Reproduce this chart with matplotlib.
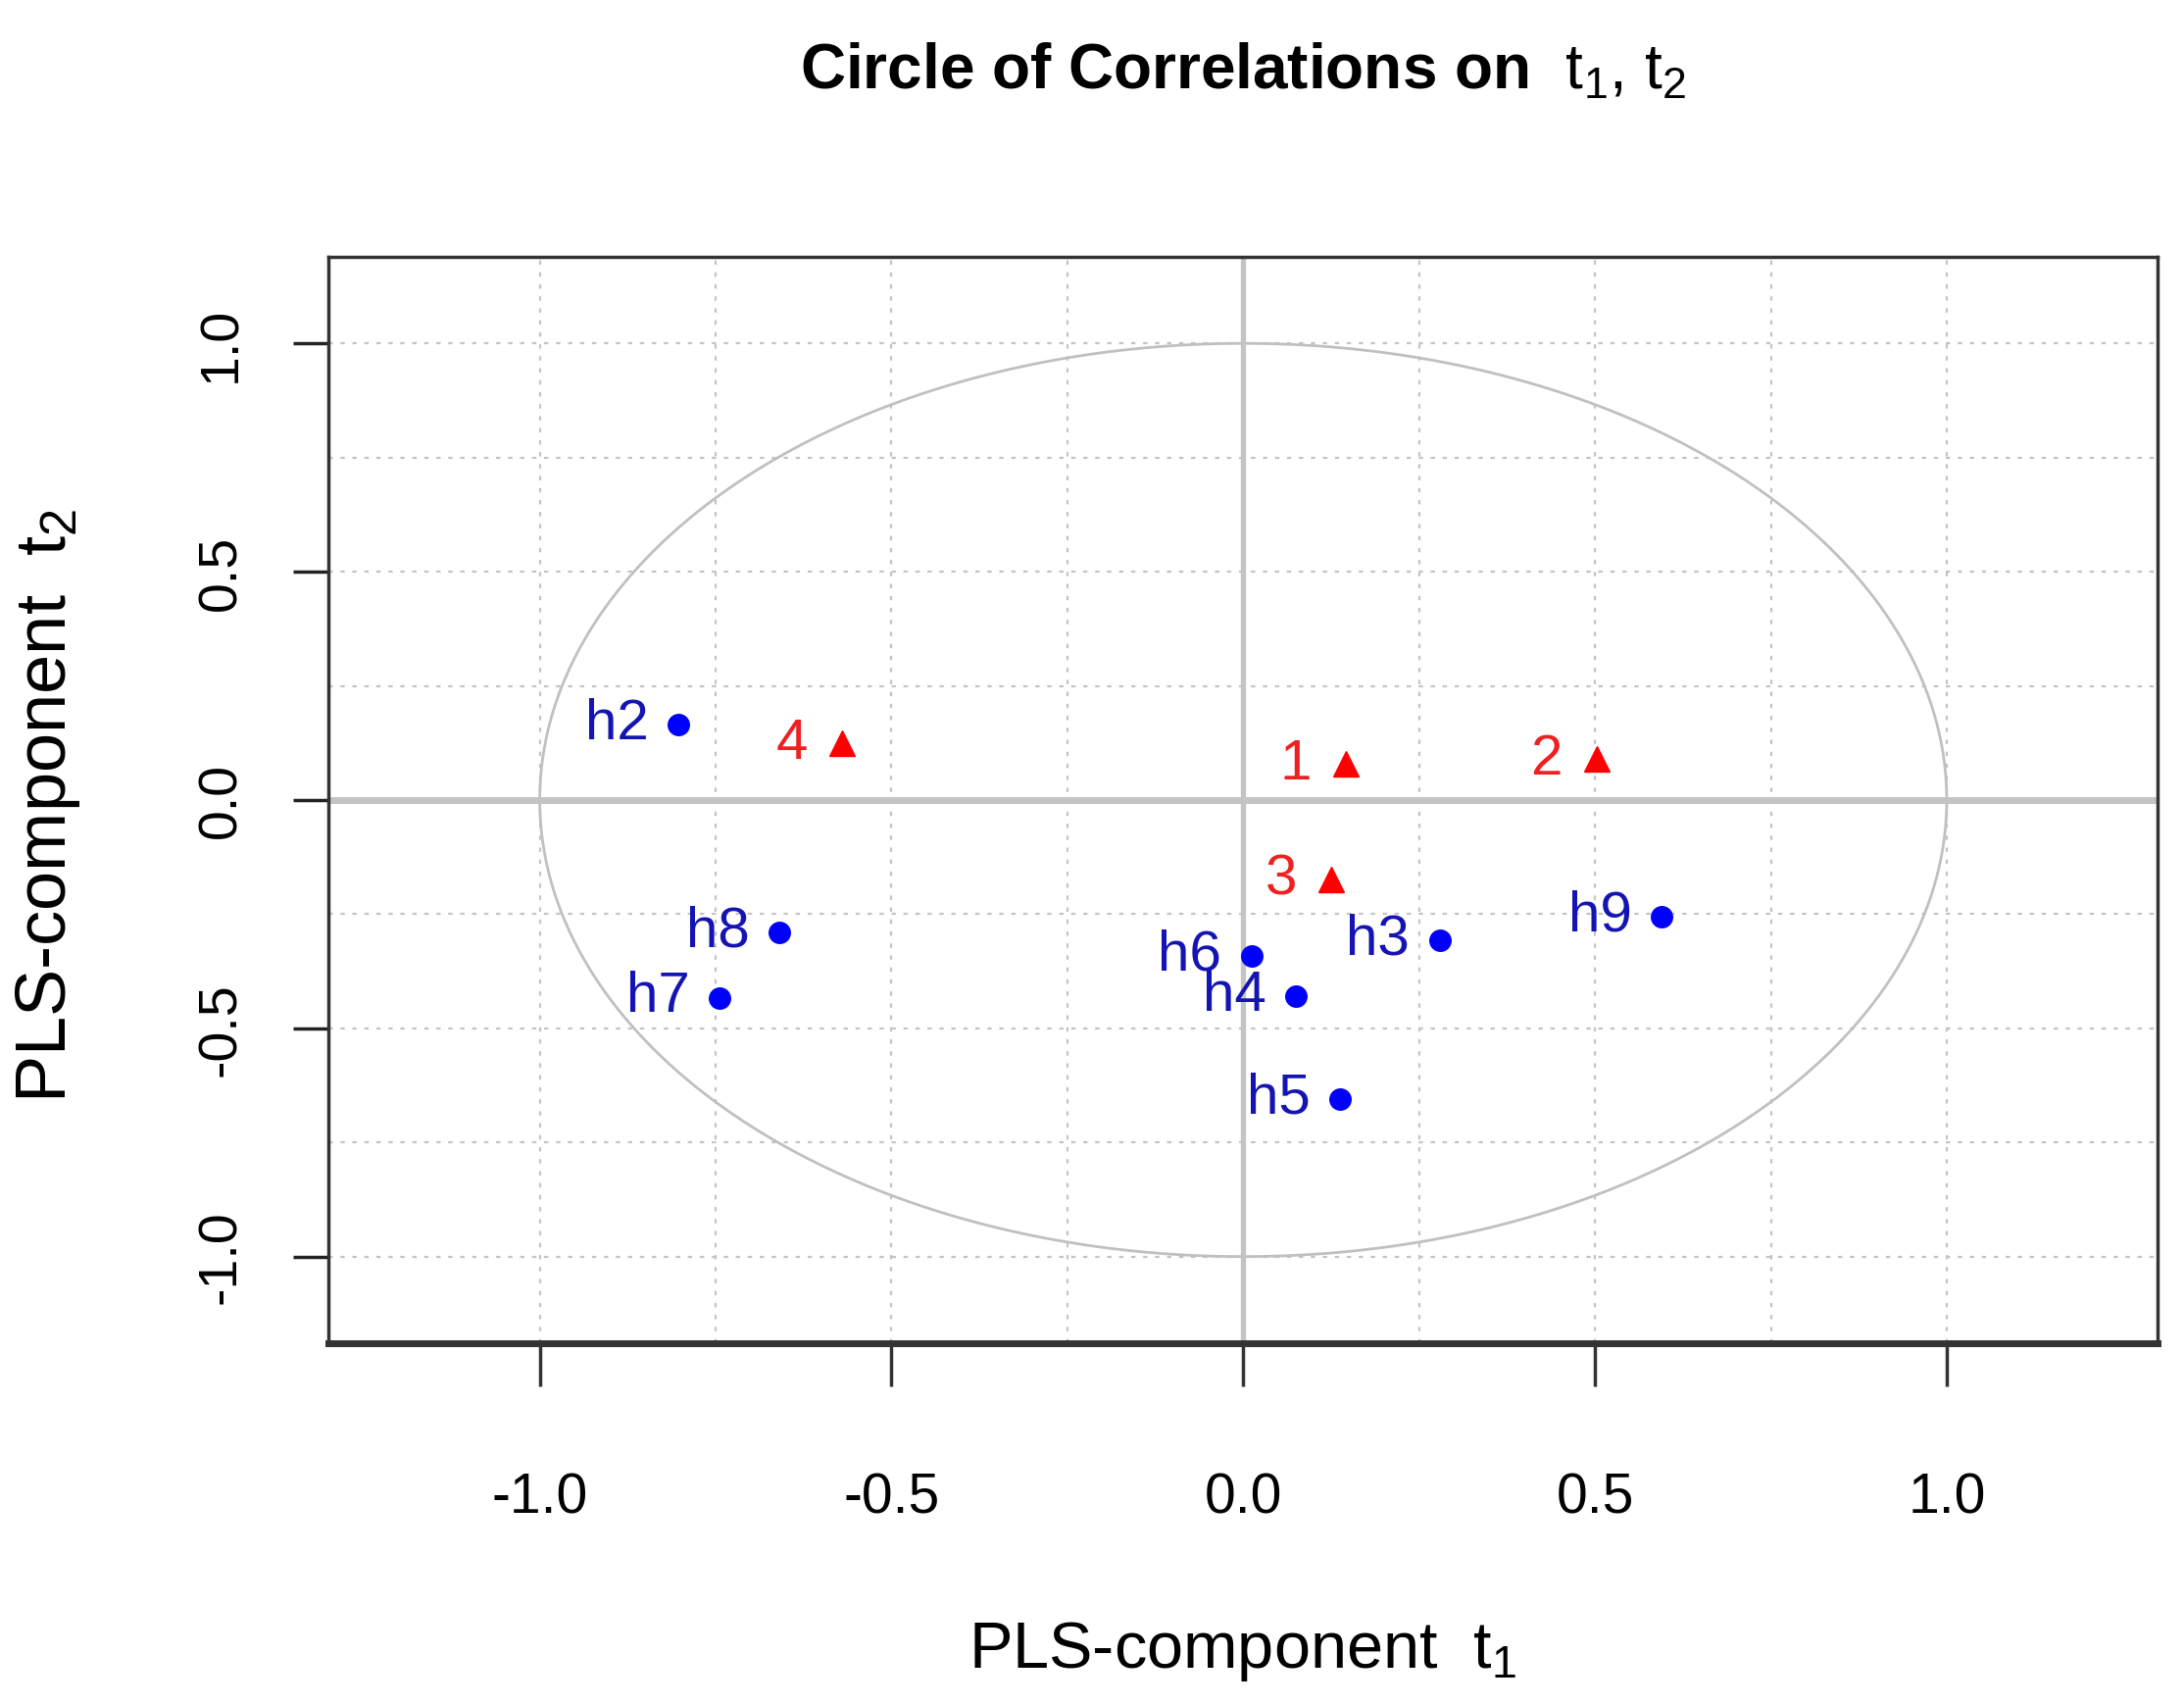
import numpy as np
import matplotlib
matplotlib.use("Agg")
import matplotlib.pyplot as plt

# correlations of the predictors (h*) and responses (1-4) with t1, t2
x_names = ["h2", "h3", "h4", "h5", "h6", "h7", "h8", "h9"]
x_t1 = [-0.803, 0.279, 0.075, 0.138, 0.012, -0.744, -0.659, 0.595]
x_t2 = [0.165, -0.308, -0.430, -0.655, -0.341, -0.433, -0.290, -0.256]

y_names = ["1", "2", "3", "4"]
y_t1 = [0.146, 0.502, 0.125, -0.570]
y_t2 = [0.079, 0.090, -0.174, 0.125]

font = ["Liberation Sans", "DejaVu Sans"]
plt.rcParams["mathtext.fontset"] = "custom"
plt.rcParams["mathtext.rm"] = "Liberation Sans"
plt.rcParams["mathtext.it"] = "Liberation Sans"

fig = plt.figure(figsize=(22.28, 17.4), dpi=100)
ax = fig.add_axes([0.1505, 0.212, 0.8375, 0.637])

ax.set_xlim(-1.3, 1.3)
ax.set_ylim(-1.19, 1.19)

# dotted grid
for g in np.arange(-1, 1.01, 0.25):
    ax.axvline(g, color="#c4c4c4", ls=(0, (2, 3.5)), lw=1.6, zorder=0)
    ax.axhline(g, color="#c4c4c4", ls=(0, (2, 3.5)), lw=1.6, zorder=0)

# unit circle and axes through origin
th = np.linspace(0, 2 * np.pi, 400)
ax.plot(np.cos(th), np.sin(th), color="#c0c0c0", lw=2, zorder=1)
ax.axhline(0, color="#c4c4c4", lw=5, zorder=1)
ax.axvline(0, color="#c4c4c4", lw=3.8, zorder=1)

ax.plot(x_t1, x_t2, "o", color="blue", ms=15.5, zorder=3)
ax.plot(y_t1, y_t2, "^", color="red", ms=19, zorder=3)

for n, a, b in zip(x_names, x_t1, x_t2):
    ax.annotate(n, (a, b), xytext=(-22, 1), textcoords="offset points",
                ha="right", va="center", color="#1414b4", fontsize=42, family=font)
for n, a, b in zip(y_names, y_t1, y_t2):
    ax.annotate(n, (a, b), xytext=(-25, 0), textcoords="offset points",
                ha="right", va="center", color="#ee2020", fontsize=42, family=font)

ax.set_xticks([-1.0, -0.5, 0.0, 0.5, 1.0])
ax.set_yticks([-1.0, -0.5, 0.0, 0.5, 1.0])
ax.set_xticklabels(["-1.0", "-0.5", "0.0", "0.5", "1.0"], family=font, fontsize=41)
ax.set_yticklabels(["-1.0", "-0.5", "0.0", "0.5", "1.0"], family=font, fontsize=40,
                   rotation=90, va="center")
ax.tick_params(axis="x", length=32, width=2.5, color="#333333", pad=62)
ax.tick_params(axis="y", length=26, width=2.5, color="#222222", pad=34)

for s in ax.spines.values():
    s.set_color("#333333")
    s.set_linewidth(2.5)
ax.spines["bottom"].set_linewidth(5)

fig.text(0.569, 0.958, r"Circle of Correlations on  $\mathrm{t_1{,}\ t_2}$",
         ha="center", va="center", fontsize=46, fontweight="bold", family=font)
fig.text(0.569, 0.032, r"PLS-component  $\mathrm{t_1}$", ha="center", va="center",
         fontsize=48, family=font)
fig.text(0.022, 0.528, r"PLS-component  $\mathrm{t_2}$", ha="center", va="center",
         fontsize=52, family=font, rotation=90)

fig.savefig("out.png", dpi=100, facecolor="white")
